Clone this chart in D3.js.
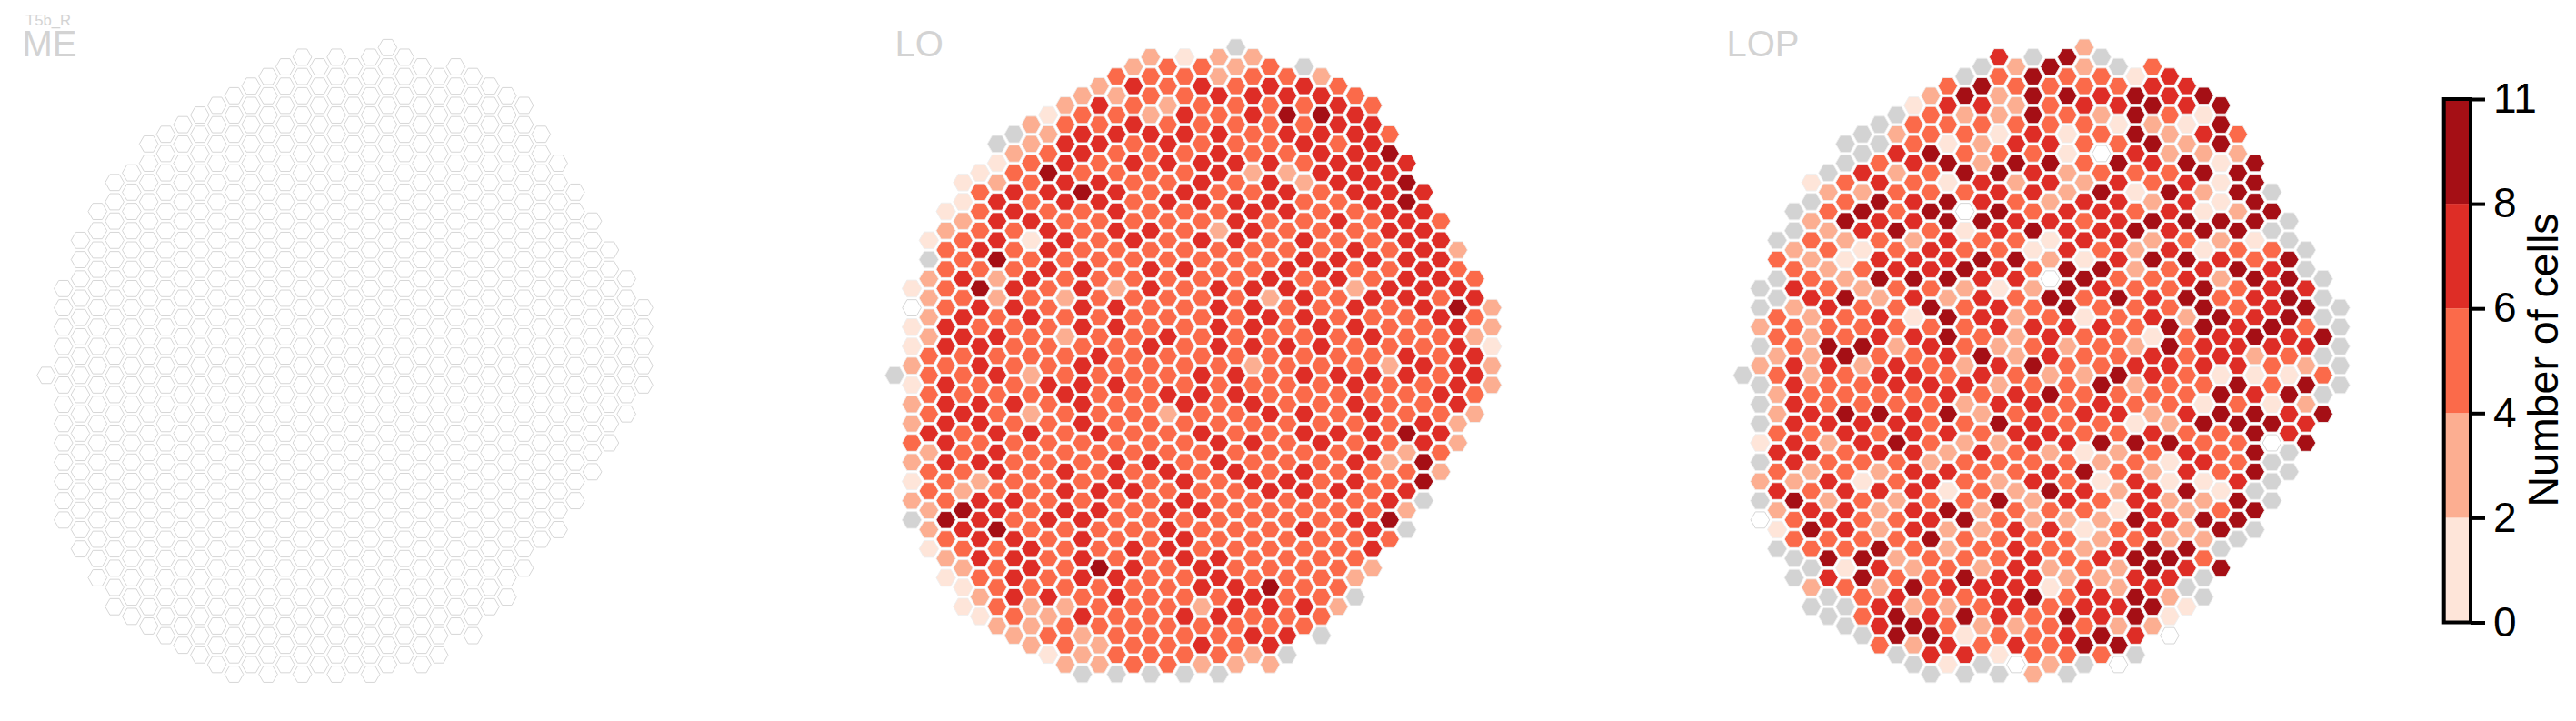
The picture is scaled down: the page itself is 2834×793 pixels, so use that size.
<!DOCTYPE html>
<html><head><meta charset="utf-8">
<script src="https://cdn.jsdelivr.net/npm/d3@7"></script>
<style>html,body{margin:0;padding:0;background:#fff}svg{display:block}text{font-family:"Liberation Sans",Arial,sans-serif}</style>
</head><body><svg id="c" width="2834" height="793"></svg>
<script>
const n = null; // null = grey hexagon (no data); 0 = white hexagon
const panels = ["ME", "LO", "LOP"];
const title = "T5b_R";
const rowK = d3.range(-34, 32);
const rowStart = [20,15,14,13,12,11,10,9,8,7,6,7,6,5,4,5,4,3,4,3,2,3,2,3,2,1,2,1,2,1,2,1,2,1,0,1,2,1,2,1,2,1,2,1,2,1,2,1,2,1,2,3,2,3,4,3,4,5,4,5,6,7,8,9,10,11];
const loRows = [
[n],[3,1,3,3],[3,5,5,3,5,n],[5,5,5,3,5,5,3],[3,7,5,7,5,7,7,5],[3,3,5,5,7,7,7,7,5],[3,7,5,3,5,5,5,5,7,5],[1,5,5,3,7,5,7,9,9,7],
[3,5,5,7,5,5,5,5,5,7,7],[n,3,7,7,7,7,7,5,7,7,7,5],[n,3,7,7,5,7,5,5,5,7,5,7],[3,5,7,5,5,5,7,5,5,7,7,9],[1,5,7,5,7,7,7,7,7,5,7,7,7],
[1,5,9,5,5,5,5,7,3,3,7,7,7],[1,3,5,7,7,5,5,7,5,7,3,7,7,9],[5,7,7,9,7,5,7,5,5,7,5,7,7,7],[1,7,5,7,7,5,7,7,7,7,5,5,7,9],
[1,5,7,5,5,7,5,5,5,7,7,5,5,7,7],[3,7,7,5,5,5,5,5,7,5,5,7,5,7,5],[3,5,5,7,5,7,7,5,3,7,5,5,5,7,7],[1,5,7,1,7,5,7,5,7,7,5,7,5,5,7,7],
[5,7,5,7,5,5,5,5,5,5,5,5,7,5,7,3],[n,5,9,5,5,5,5,5,5,5,5,7,7,7,7,7],[5,5,5,7,7,5,7,7,5,5,7,7,5,5,7,5],[3,7,3,7,5,5,5,5,5,5,7,5,7,5,7,7,5],
[1,5,9,7,5,7,3,7,5,7,7,7,5,3,7,7,7],[3,5,3,5,3,5,5,5,5,5,3,7,5,7,7,5,7],[0,5,7,7,5,7,7,5,5,7,7,5,5,7,5,7,9,3],[3,7,5,7,5,5,5,5,5,5,7,7,5,5,5,7,5],
[1,7,5,5,5,7,7,5,5,7,7,5,7,7,5,5,7,3],[3,7,7,5,3,5,5,7,5,5,5,5,5,7,5,5,3],[1,7,7,5,5,5,5,7,5,7,7,7,7,5,5,5,7,1],[5,5,5,5,5,7,5,5,5,5,5,5,5,5,7,5,7],
[3,5,7,5,5,7,5,5,5,5,3,5,5,5,3,7,7,3],[n,5,5,7,3,5,5,5,5,7,7,5,7,7,7,7,5,7],[1,7,5,5,7,7,7,5,5,5,5,5,5,7,5,5,7,3],[5,5,5,5,7,5,5,7,7,7,5,5,5,5,5,7,5],
[3,7,7,7,5,7,5,5,7,5,7,5,5,7,5,5,7],[5,7,5,3,5,5,5,3,5,5,7,7,5,7,5,5,3],[3,7,7,5,5,7,5,5,5,5,5,5,5,5,5,7,3],[7,5,7,7,5,7,5,5,7,5,5,7,7,7,9,7],
[5,7,5,5,5,5,5,5,5,7,7,5,7,5,5,7,3],[3,5,7,5,5,5,5,5,5,5,5,5,5,7,3,5],[3,7,7,5,5,5,7,7,5,7,5,5,5,7,3,9],[5,5,7,5,7,5,5,7,5,7,5,7,5,5,5,3],
[1,5,3,5,5,5,7,5,7,5,7,7,5,7,5,9],[5,3,5,5,7,7,7,5,5,5,7,7,7,5,7],[3,5,7,7,5,5,5,5,7,5,5,5,5,5,7,n],[3,9,7,5,7,7,5,7,7,5,5,5,5,5,3],
[n,9,7,5,7,7,5,5,5,5,5,5,5,7,9],[3,7,9,5,5,5,5,7,5,5,5,7,5,7,n],[5,7,7,5,7,5,5,7,5,5,5,5,5,5],[1,5,5,7,5,5,7,7,5,5,5,5,5,7],
[3,7,7,5,7,5,5,7,7,5,5,5,5],[3,5,7,5,9,7,5,7,5,5,5,5,3],[1,5,7,5,7,7,5,5,7,5,5,5,3],[1,5,5,5,5,5,5,7,7,9,5,5],[3,7,7,5,7,5,5,5,7,5,5,n],
[1,5,3,3,5,5,5,3,7,7,7,3],[1,5,3,7,5,5,7,7,5,5,5],[3,3,5,5,5,5,5,5,5,5],[3,5,3,5,5,5,5,7,7,n],[3,5,3,5,5,7,5,7],[1,3,5,5,5,5,3,n],[3,3,5,5,3,3,3],[n,n,n,n,n]
];
const lopRows = [
[3],[7,n,9,n],[n,3,9,3,n,5],[n,5,9,5,5,1,7],[5,9,5,5,5,5,7,7],[3,9,3,9,9,7,9,7,9],[1,7,7,3,5,7,7,9,7,9],[n,5,3,3,9,5,3,9,5,1],
[n,5,5,5,5,5,5,1,3,1,9],[n,3,5,5,1,7,1,5,9,3,7,5],[n,n,5,1,3,7,7,5,5,9,3,9],[n,7,9,5,5,5,1,0,7,3,3,3],[n,5,7,9,3,9,9,5,9,7,9,1,9],
[n,7,3,5,9,9,7,3,5,5,5,9,9],[1,5,7,5,1,7,3,7,3,7,5,7,1,9],[3,3,5,5,5,7,7,3,9,1,9,3,9,n],[n,5,9,7,9,7,5,3,7,7,3,7,1,9],
[n,5,9,5,9,0,9,5,7,7,5,7,1,3,9],[3,9,7,7,9,9,7,7,5,7,9,9,9,9,n],[n,3,7,9,5,1,7,9,7,7,9,7,9,9,n],[n,5,3,5,3,7,5,5,1,7,7,3,5,3,1,n],
[3,5,1,5,7,5,5,1,7,5,3,7,1,5,5,n],[5,3,1,7,7,7,9,9,3,1,7,9,9,7,5,9],[5,3,5,7,7,9,7,5,9,9,3,5,7,9,7,n],[n,5,3,9,9,9,7,7,0,9,5,5,7,3,9,9,n],
[n,7,5,3,5,5,3,1,3,9,7,5,5,9,5,7,7],[n,7,9,3,7,3,7,5,9,5,9,7,9,5,7,9,n],[n,3,7,5,5,9,5,7,5,9,5,5,5,9,5,7,9,n],[5,3,5,7,1,9,7,3,5,1,5,7,3,9,7,9,n],
[3,5,5,5,5,5,5,7,7,7,7,5,9,9,7,9,5,n],[5,3,5,7,7,9,5,3,7,5,5,1,5,7,9,7,9],[n,5,9,9,3,7,5,3,5,3,5,3,9,7,7,7,7,n],[3,3,9,5,5,7,9,3,7,5,5,7,5,7,3,5,n],
[3,7,7,3,7,5,3,7,9,5,5,7,7,7,7,5,3,n],[n,5,3,5,7,7,5,7,5,3,3,9,7,5,1,1,1,5],[n,7,5,5,7,7,7,3,5,5,9,3,5,5,9,5,9,n],[3,5,5,5,5,7,5,7,9,5,5,5,5,9,7,9,n],
[n,7,5,5,5,5,3,7,7,5,7,5,5,1,5,1,3],[3,7,9,9,7,9,3,5,5,7,7,3,7,9,9,7,9],[n,7,7,7,7,5,5,9,7,5,5,1,3,9,9,9,7],[5,5,7,5,7,7,5,7,7,5,5,7,5,5,9,7],
[1,7,3,7,9,5,3,3,7,7,9,9,9,5,5,0,9],[7,7,5,7,7,3,7,5,3,1,3,5,7,5,9,n],[n,7,5,5,5,3,5,5,5,5,3,5,1,7,5,n],[5,3,5,3,7,7,5,5,7,9,5,3,7,5,9,n],
[3,3,7,1,5,7,5,3,7,5,1,7,1,1,7,n],[7,5,7,7,7,1,5,3,9,7,3,7,9,1,n],[n,9,3,5,3,5,5,9,3,7,5,7,3,3,9,n],[3,7,7,3,7,9,3,5,5,5,1,7,3,5,9],
[0,5,7,5,5,7,9,5,3,3,3,9,7,9,9],[1,9,7,3,7,3,3,7,7,1,5,7,3,9,n],[5,5,5,5,9,5,5,5,5,3,5,3,3,n],[n,5,5,9,5,3,5,7,5,3,7,9,9,n],
[n,9,9,3,5,5,5,7,5,7,9,9,5],[n,1,7,3,5,3,7,3,5,3,9,7,9],[n,7,9,5,5,9,7,7,3,3,7,7,n],[3,5,3,9,7,7,7,1,7,3,7,n],[n,5,7,5,5,7,9,5,7,9,3,n],
[n,n,7,3,3,5,7,5,7,7,9,1],[n,5,9,7,9,7,5,9,7,9,1],[n,7,9,5,3,3,5,5,3,3],[n,9,9,1,5,5,7,9,7,0],[5,3,7,5,7,5,9,9],[n,7,7,1,5,5,5,n],[n,1,n,0,3,n,0],[n,n,n,3,n]
];
const meRows = loRows.map(r => r.map(() => 0));
const cbTicks = ["0", "2", "4", "6", "8", "11"];
const binEdges = [2, 4, 6, 8];
const binColors = ["#fee5d9", "#fcae91", "#fb6a4a", "#de2d26", "#a50f15"];
const cbLabel = "Number of cells";

const svg = d3.select("#c");
const color = d3.scaleThreshold().domain(binEdges).range(binColors);
const fillOf = v => v === null ? "#d3d3d3" : v === 0 ? "#ffffff" : color(v);
const x0s = d3.scalePoint().domain(panels).range([51, 1917.6]);
const xCol = d3.scaleLinear().domain([0, 35]).range([0, 35 * 18.77]);
const yRow = d3.scaleLinear().domain([-34, 31]).range([52.3, 741.5]);
const hexPathOf = R => d3.line()(d3.range(6).map(i => [R * Math.cos(i * Math.PI / 3), R * Math.sin(i * Math.PI / 3)])) + "Z";
const hexFilled = hexPathOf(10.7), hexOpen = hexPathOf(10.3);
const dataOf = { ME: meRows, LO: loRows, LOP: lopRows };
const labelX = { ME: 24.5, LO: 984.5, LOP: 1899.5 };

panels.forEach(p => {
  const cells = dataOf[p].flatMap((r, ri) => r.map((v, j) => ({ v, col: rowStart[ri] + 2 * j, k: rowK[ri] })));
  svg.append("g").attr("transform", `translate(${x0s(p)},0)`)
    .selectAll("path").data(cells).join("path")
    .attr("d", d => d.v === 0 ? hexOpen : hexFilled)
    .attr("transform", d => `translate(${xCol(d.col)},${yRow(d.k)})`)
    .attr("fill", d => fillOf(d.v))
    .attr("stroke", d => d.v === 0 ? "#d6d6d6" : "#eeeeee")
    .attr("stroke-width", d => d.v === 0 ? 1 : 0.9);
  svg.append("text").attr("x", labelX[p]).attr("y", 62).attr("font-size", 40).attr("fill", "#d3d3d3").text(p);
});
svg.append("text").attr("x", 28).attr("y", 28).attr("font-size", 16.7).attr("fill", "#d3d3d3").text(title);

// colour bar
const cbX = 2688.7, cbW = 29.3;
const cbY = d3.scalePoint().domain(cbTicks).range([684.5, 109]);
const g = svg.append("g");
const mids = [1, 3, 5, 7, 9];
g.selectAll("rect").data(d3.pairs(cbTicks)).join("rect")
  .attr("x", cbX).attr("width", cbW)
  .attr("y", d => cbY(d[1])).attr("height", d => cbY(d[0]) - cbY(d[1]))
  .attr("fill", (d, i) => color(mids[i]));
g.append("rect").attr("x", cbX).attr("width", cbW).attr("y", cbY("11")).attr("height", cbY("0") - cbY("11"))
  .attr("fill", "none").attr("stroke", "#000").attr("stroke-width", 4);
const axis = d3.axisRight(cbY).tickSize(16).tickPadding(9);
const ax = g.append("g").attr("transform", `translate(${cbX + cbW},0)`).call(axis);
ax.select(".domain").remove();
ax.selectAll("line").attr("stroke", "#000").attr("stroke-width", 4);
ax.selectAll("text").attr("font-size", 46).attr("fill", "#000").attr("font-family", '"Liberation Sans",Arial,sans-serif');
g.append("text").attr("transform", `translate(2814,396) rotate(-90)`).attr("text-anchor", "middle")
  .attr("font-size", 46.5).attr("fill", "#000").text(cbLabel);
</script></body></html>
